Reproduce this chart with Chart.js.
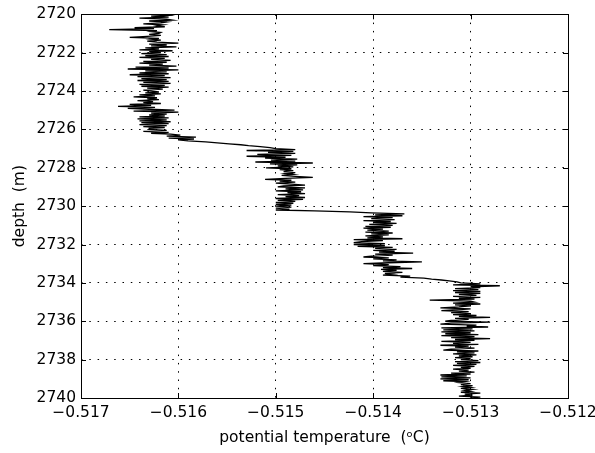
<!DOCTYPE html>
<html>
<head>
<meta charset="utf-8">
<script src="https://cdn.jsdelivr.net/npm/chart.js@4.4.0/dist/chart.umd.min.js"></script>
<style>
  html, body { margin: 0; padding: 0; background: #fff; }
  #wrap { width: 595px; height: 453px; }
</style>
</head>
<body>
<div id="wrap"><canvas id="profile" width="595" height="453"></canvas></div>
<script>
// depth (m), one sample every 5 cm
const depth = [
  2720.00, 2720.05, 2720.10, 2720.15, 2720.20, 2720.25, 2720.30, 2720.35, 2720.40, 2720.45, 2720.50, 2720.55, 2720.60, 2720.65, 2720.70, 2720.75, 2720.80, 2720.85, 2720.90, 2720.95,
  2721.00, 2721.05, 2721.10, 2721.15, 2721.20, 2721.25, 2721.30, 2721.35, 2721.40, 2721.45, 2721.50, 2721.55, 2721.60, 2721.65, 2721.70, 2721.75, 2721.80, 2721.85, 2721.90, 2721.95,
  2722.00, 2722.05, 2722.10, 2722.15, 2722.20, 2722.25, 2722.30, 2722.35, 2722.40, 2722.45, 2722.50, 2722.55, 2722.60, 2722.65, 2722.70, 2722.75, 2722.80, 2722.85, 2722.90, 2722.95,
  2723.00, 2723.05, 2723.10, 2723.15, 2723.20, 2723.25, 2723.30, 2723.35, 2723.40, 2723.45, 2723.50, 2723.55, 2723.60, 2723.65, 2723.70, 2723.75, 2723.80, 2723.85, 2723.90, 2723.95,
  2724.00, 2724.05, 2724.10, 2724.15, 2724.20, 2724.25, 2724.30, 2724.35, 2724.40, 2724.45, 2724.50, 2724.55, 2724.60, 2724.65, 2724.70, 2724.75, 2724.80, 2724.85, 2724.90, 2724.95,
  2725.00, 2725.05, 2725.10, 2725.15, 2725.20, 2725.25, 2725.30, 2725.35, 2725.40, 2725.45, 2725.50, 2725.55, 2725.60, 2725.65, 2725.70, 2725.75, 2725.80, 2725.85, 2725.90, 2725.95,
  2726.00, 2726.05, 2726.10, 2726.15, 2726.20, 2726.25, 2726.30, 2726.35, 2726.40, 2726.45, 2726.50, 2726.55, 2726.60, 2726.65, 2726.70, 2726.75, 2726.80, 2726.85, 2726.90, 2726.95,
  2727.00, 2727.05, 2727.10, 2727.15, 2727.20, 2727.25, 2727.30, 2727.35, 2727.40, 2727.45, 2727.50, 2727.55, 2727.60, 2727.65, 2727.70, 2727.75, 2727.80, 2727.85, 2727.90, 2727.95,
  2728.00, 2728.05, 2728.10, 2728.15, 2728.20, 2728.25, 2728.30, 2728.35, 2728.40, 2728.45, 2728.50, 2728.55, 2728.60, 2728.65, 2728.70, 2728.75, 2728.80, 2728.85, 2728.90, 2728.95,
  2729.00, 2729.05, 2729.10, 2729.15, 2729.20, 2729.25, 2729.30, 2729.35, 2729.40, 2729.45, 2729.50, 2729.55, 2729.60, 2729.65, 2729.70, 2729.75, 2729.80, 2729.85, 2729.90, 2729.95,
  2730.00, 2730.05, 2730.10, 2730.15, 2730.20, 2730.25, 2730.30, 2730.35, 2730.40, 2730.45, 2730.50, 2730.55, 2730.60, 2730.65, 2730.70, 2730.75, 2730.80, 2730.85, 2730.90, 2730.95,
  2731.00, 2731.05, 2731.10, 2731.15, 2731.20, 2731.25, 2731.30, 2731.35, 2731.40, 2731.45, 2731.50, 2731.55, 2731.60, 2731.65, 2731.70, 2731.75, 2731.80, 2731.85, 2731.90, 2731.95,
  2732.00, 2732.05, 2732.10, 2732.15, 2732.20, 2732.25, 2732.30, 2732.35, 2732.40, 2732.45, 2732.50, 2732.55, 2732.60, 2732.65, 2732.70, 2732.75, 2732.80, 2732.85, 2732.90, 2732.95,
  2733.00, 2733.05, 2733.10, 2733.15, 2733.20, 2733.25, 2733.30, 2733.35, 2733.40, 2733.45, 2733.50, 2733.55, 2733.60, 2733.65, 2733.70, 2733.75, 2733.80, 2733.85, 2733.90, 2733.95,
  2734.00, 2734.05, 2734.10, 2734.15, 2734.20, 2734.25, 2734.30, 2734.35, 2734.40, 2734.45, 2734.50, 2734.55, 2734.60, 2734.65, 2734.70, 2734.75, 2734.80, 2734.85, 2734.90, 2734.95,
  2735.00, 2735.05, 2735.10, 2735.15, 2735.20, 2735.25, 2735.30, 2735.35, 2735.40, 2735.45, 2735.50, 2735.55, 2735.60, 2735.65, 2735.70, 2735.75, 2735.80, 2735.85, 2735.90, 2735.95,
  2736.00, 2736.05, 2736.10, 2736.15, 2736.20, 2736.25, 2736.30, 2736.35, 2736.40, 2736.45, 2736.50, 2736.55, 2736.60, 2736.65, 2736.70, 2736.75, 2736.80, 2736.85, 2736.90, 2736.95,
  2737.00, 2737.05, 2737.10, 2737.15, 2737.20, 2737.25, 2737.30, 2737.35, 2737.40, 2737.45, 2737.50, 2737.55, 2737.60, 2737.65, 2737.70, 2737.75, 2737.80, 2737.85, 2737.90, 2737.95,
  2738.00, 2738.05, 2738.10, 2738.15, 2738.20, 2738.25, 2738.30, 2738.35, 2738.40, 2738.45, 2738.50, 2738.55, 2738.60, 2738.65, 2738.70, 2738.75, 2738.80, 2738.85, 2738.90, 2738.95,
  2739.00, 2739.05, 2739.10, 2739.15, 2739.20, 2739.25, 2739.30, 2739.35, 2739.40, 2739.45, 2739.50, 2739.55, 2739.60, 2739.65, 2739.70, 2739.75, 2739.80, 2739.85, 2739.90, 2739.95,
  2740.00
];

// potential temperature (degC) at each depth
const theta = [
  -0.51612, -0.51608, -0.51628, -0.51610, -0.51640, -0.51612, -0.51606, -0.51630, -0.51612, -0.51618, -0.51636, -0.51616, -0.51622, -0.51614, -0.51645, -0.51625, -0.51671, -0.51622, -0.51628, -0.51618,
  -0.51620, -0.51630, -0.51618, -0.51632, -0.51650, -0.51620, -0.51628, -0.51618, -0.51632, -0.51622, -0.51600, -0.51630, -0.51612, -0.51628, -0.51602, -0.51634, -0.51620, -0.51640, -0.51606, -0.51630,
  -0.51618, -0.51638, -0.51612, -0.51634, -0.51610, -0.51640, -0.51614, -0.51628, -0.51608, -0.51636, -0.51612, -0.51640, -0.51616, -0.51630, -0.51602, -0.51644, -0.51610, -0.51652, -0.51600, -0.51634,
  -0.51612, -0.51640, -0.51610, -0.51650, -0.51614, -0.51642, -0.51608, -0.51638, -0.51612, -0.51642, -0.51610, -0.51636, -0.51608, -0.51640, -0.51614, -0.51638, -0.51610, -0.51632, -0.51616, -0.51636,
  -0.51628, -0.51620, -0.51634, -0.51618, -0.51640, -0.51624, -0.51646, -0.51622, -0.51632, -0.51620, -0.51642, -0.51626, -0.51636, -0.51618, -0.51650, -0.51628, -0.51662, -0.51624, -0.51652, -0.51630,
  -0.51604, -0.51646, -0.51600, -0.51628, -0.51612, -0.51630, -0.51614, -0.51640, -0.51610, -0.51642, -0.51612, -0.51640, -0.51608, -0.51638, -0.51610, -0.51640, -0.51612, -0.51636, -0.51614, -0.51630,
  -0.51630, -0.51612, -0.51636, -0.51610, -0.51628, -0.51608, -0.51598, -0.51612, -0.51582, -0.51610, -0.51584, -0.51600, -0.51590, -0.51572, -0.51560, -0.51548, -0.51536, -0.51528, -0.51516, -0.51506,
  -0.51500, -0.51480, -0.51530, -0.51482, -0.51508, -0.51480, -0.51519, -0.51484, -0.51530, -0.51490, -0.51511, -0.51478, -0.51505, -0.51480, -0.51521, -0.51462, -0.51506, -0.51478, -0.51498, -0.51482,
  -0.51510, -0.51484, -0.51496, -0.51482, -0.51492, -0.51480, -0.51490, -0.51482, -0.51494, -0.51480, -0.51462, -0.51490, -0.51511, -0.51484, -0.51496, -0.51480, -0.51500, -0.51484, -0.51470, -0.51492,
  -0.51498, -0.51470, -0.51490, -0.51472, -0.51500, -0.51474, -0.51488, -0.51470, -0.51498, -0.51476, -0.51490, -0.51470, -0.51500, -0.51472, -0.51498, -0.51480, -0.51500, -0.51482, -0.51500, -0.51484,
  -0.51500, -0.51484, -0.51500, -0.51486, -0.51500, -0.51460, -0.51424, -0.51402, -0.51368, -0.51398, -0.51370, -0.51410, -0.51380, -0.51402, -0.51378, -0.51410, -0.51382, -0.51400, -0.51376, -0.51404,
  -0.51380, -0.51408, -0.51382, -0.51410, -0.51390, -0.51406, -0.51384, -0.51408, -0.51380, -0.51402, -0.51384, -0.51408, -0.51390, -0.51406, -0.51370, -0.51420, -0.51390, -0.51412, -0.51420, -0.51388,
  -0.51420, -0.51388, -0.51416, -0.51380, -0.51398, -0.51376, -0.51400, -0.51378, -0.51394, -0.51359, -0.51398, -0.51380, -0.51402, -0.51410, -0.51384, -0.51400, -0.51376, -0.51390, -0.51350, -0.51384,
  -0.51410, -0.51384, -0.51400, -0.51372, -0.51390, -0.51360, -0.51392, -0.51376, -0.51390, -0.51370, -0.51388, -0.51380, -0.51390, -0.51362, -0.51372, -0.51348, -0.51340, -0.51330, -0.51322, -0.51314,
  -0.51310, -0.51290, -0.51318, -0.51270, -0.51300, -0.51290, -0.51316, -0.51292, -0.51318, -0.51290, -0.51316, -0.51290, -0.51312, -0.51294, -0.51318, -0.51290, -0.51312, -0.51296, -0.51342, -0.51300,
  -0.51296, -0.51318, -0.51290, -0.51316, -0.51300, -0.51312, -0.51331, -0.51300, -0.51314, -0.51330, -0.51302, -0.51320, -0.51300, -0.51318, -0.51294, -0.51312, -0.51280, -0.51316, -0.51302, -0.51320,
  -0.51326, -0.51280, -0.51320, -0.51331, -0.51294, -0.51304, -0.51282, -0.51330, -0.51298, -0.51328, -0.51296, -0.51330, -0.51300, -0.51326, -0.51292, -0.51330, -0.51296, -0.51320, -0.51280, -0.51316,
  -0.51296, -0.51330, -0.51300, -0.51318, -0.51292, -0.51331, -0.51302, -0.51316, -0.51296, -0.51320, -0.51328, -0.51292, -0.51314, -0.51296, -0.51318, -0.51294, -0.51312, -0.51298, -0.51316, -0.51300,
  -0.51310, -0.51292, -0.51316, -0.51290, -0.51314, -0.51294, -0.51318, -0.51296, -0.51310, -0.51300, -0.51318, -0.51302, -0.51312, -0.51296, -0.51320, -0.51300, -0.51331, -0.51304, -0.51330, -0.51300,
  -0.51331, -0.51302, -0.51328, -0.51306, -0.51312, -0.51300, -0.51310, -0.51298, -0.51308, -0.51300, -0.51310, -0.51298, -0.51306, -0.51300, -0.51310, -0.51290, -0.51306, -0.51298, -0.51312, -0.51290,
  -0.51300
];

// axis ranges and labels
const xMin = -0.517, xMax = -0.512, xStep = 0.001;
const yMin = 2720, yMax = 2740, yStep = 2;
const xTitle = 'potential temperature  (\u1D52C)';
const yTitle = 'depth  (m)';

const points = depth.map((d, i) => ({ x: theta[i], y: d }));
const fmt = v => (v < 0 ? '\u2212' : '') + Math.abs(v).toFixed(3);

Chart.defaults.font.family = "'DejaVu Sans', sans-serif";
Chart.defaults.font.size = 15.5;
Chart.defaults.color = '#000';

// solid box round the plot plus inward tick marks on all four sides
const frame = {
    id: 'frame',
    afterDraw(chart) {
        const { ctx, chartArea: a, scales: { x, y } } = chart;
        const len = 5;
        ctx.save();
        ctx.strokeStyle = '#000';
        ctx.lineWidth = 1;
        ctx.beginPath();
        x.ticks.forEach(t => {
            const px = Math.round(x.getPixelForValue(t.value)) + 0.5;
            ctx.moveTo(px, a.bottom); ctx.lineTo(px, a.bottom - len);
            ctx.moveTo(px, a.top); ctx.lineTo(px, a.top + len);
        });
        y.ticks.forEach(t => {
            const py = Math.round(y.getPixelForValue(t.value)) + 0.5;
            ctx.moveTo(a.left, py); ctx.lineTo(a.left + len, py);
            ctx.moveTo(a.right, py); ctx.lineTo(a.right - len, py);
        });
        ctx.stroke();
        ctx.strokeRect(Math.round(a.left) + 0.5, Math.round(a.top) + 0.5,
            Math.round(a.right) - Math.round(a.left), Math.round(a.bottom) - Math.round(a.top));
        ctx.restore();
    }
};

const ctx = document.getElementById('profile').getContext('2d');
new Chart(ctx, {
    type: 'scatter',
    data: {
        datasets: [{
            data: points,
            showLine: true,
            borderColor: '#000',
            borderWidth: 1.3,
            pointRadius: 0,
            tension: 0
        }]
    },
    options: {
        responsive: false,
        animation: false,
        layout: { padding: { top: 14, right: 27, left: 0, bottom: 0 } },
        plugins: { legend: { display: false }, tooltip: { enabled: false } },
        scales: {
            x: {
                type: 'linear',
                min: xMin, max: xMax,
                ticks: { stepSize: xStep, callback: fmt, padding: 6, maxRotation: 0, autoSkip: false },
                grid: { color: '#000', lineWidth: 1, drawTicks: false },
                border: { display: false, dash: [1.5, 6.8] },
                title: { display: true, text: xTitle, padding: { top: 0, bottom: 6 } },
                afterFit: s => { s.height = 55; s.paddingLeft = 0; s.paddingRight = 0; }
            },
            y: {
                type: 'linear',
                reverse: true,
                min: yMin, max: yMax,
                ticks: { stepSize: yStep, padding: 5, callback: v => String(v) },
                grid: { color: '#000', lineWidth: 1, drawTicks: false },
                border: { display: false, dash: [1.5, 6.8] },
                title: { display: true, text: yTitle, padding: { top: 11, bottom: 0 } },
                afterFit: s => { s.width = 81; }
            }
        }
    },
    plugins: [frame]
});
</script>
</body>
</html>
